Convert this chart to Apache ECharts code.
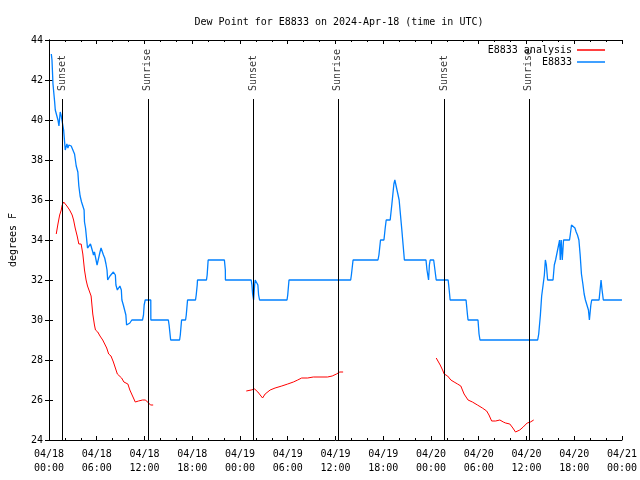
<!DOCTYPE html>
<html><head><meta charset="utf-8">
<script src="https://cdn.jsdelivr.net/npm/echarts@6/dist/echarts.min.js"></script>
<style>html,body{margin:0;padding:0;background:#fff}#c{width:640px;height:480px}</style>
</head><body><div id="c"></div>
<script>
var titleText = 'Dew Point for E8833 on 2024-Apr-18 (time in UTC)';
var xTickLabels = ['04/18\n00:00','04/18\n06:00','04/18\n12:00','04/18\n18:00','04/19\n00:00','04/19\n06:00','04/19\n12:00','04/19\n18:00','04/20\n00:00','04/20\n06:00','04/20\n12:00','04/20\n18:00','04/21\n00:00'];
// hours since 04/18 00:00 UTC, degrees F
var observed = [[0.29,43.3],[0.375,43.0],[0.5,41.8],[0.71,40.9],[0.79,40.5],[1.0,40.5],[1.125,40.0],[1.25,39.7],[1.41,40.4],[1.54,40.2],[1.66,40.3],[1.84,39.5],[1.96,38.9],[2.04,38.5],[2.25,38.8],[2.375,38.6],[2.5,38.75],[2.79,38.7],[3.0,38.6],[3.21,38.3],[3.41,38.2],[3.42,37.7],[3.625,37.4],[3.75,36.7],[3.91,36.2],[4.09,35.9],[4.34,35.9],[4.41,35.5],[4.46,34.9],[4.59,34.6],[4.75,34.6],[4.84,33.6],[5.09,33.6],[5.21,33.8],[5.29,33.9],[5.375,33.7],[5.5,33.4],[5.59,33.25],[5.71,33.4],[5.91,33.3],[6.04,32.75],[6.125,32.8],[6.41,33.4],[6.54,33.6],[6.66,33.5],[6.84,33.25],[7.0,33.1],[7.16,32.8],[7.29,32.5],[7.375,32.0],[7.5,32.1],[7.66,32.2],[7.91,32.25],[8.09,32.4],[8.25,32.5],[8.34,32.25],[8.41,31.75],[8.59,31.5],[8.75,31.5],[8.91,31.7],[9.09,31.5],[9.16,31.0],[9.34,30.75],[9.59,30.75],[9.66,30.25],[9.75,29.75],[10.0,29.75],[10.16,29.85],[10.41,30.0],[11.75,30.0],[11.875,30.25],[11.96,30.75],[12.09,31.0],[12.79,31.0],[12.8,30.0],[15.0,30.0],[15.09,29.75],[15.29,29.0],[16.41,29.0],[16.5,29.25],[16.66,30],[17.16,30],[17.25,30.25],[17.41,31],[18.41,31],[18.5,31.25],[18.625,31.75],[18.66,32],[19.79,32],[19.875,32.25],[20.0,33],[22.04,33],[22.16,32.5],[22.17,32],[25.41,32],[25.5,31.75],[25.59,31.3],[25.71,31],[25.84,31.75],[25.91,32],[26.16,32],[26.25,31.75],[26.34,31.25],[26.46,31],[29.91,31],[30.0,31.25],[30.16,32],[37.91,32],[38.0,32.25],[38.21,33],[41.34,33],[41.46,33.25],[41.66,34],[42.09,34],[42.25,34.6],[42.375,35],[42.875,35],[43.09,35.8],[43.34,36.8],[43.46,37],[43.66,37],[43.84,36.3],[44.0,36],[44.16,36],[44.34,34.5],[44.5,33.75],[44.66,33],[47.375,33],[47.5,32.5],[47.7,32],[47.8,32.75],[47.9,33],[48.34,33],[48.5,32.5],[48.66,32],[50.16,32],[50.29,31.5],[50.41,31],[52.41,31],[52.59,30.25],[52.66,30],[53.91,30],[54.04,29.3],[54.16,29],[61.41,29],[61.54,29.3],[61.75,30.25],[61.91,31.2],[62.09,31.75],[62.25,32.25],[62.375,33],[62.5,32.75],[62.66,32],[63.34,32],[63.5,32.75],[63.66,33],[63.91,33],[64.04,33.75],[64.16,34],[64.25,33],[64.37,34],[64.5,33],[64.66,34],[65.41,34],[65.5,34.25],[65.66,34.75],[65.91,34.75],[66.09,34.6],[66.25,34.4],[66.41,34.25],[66.59,34],[66.75,33.25],[66.91,32.3],[67.09,31.8],[67.25,31.3],[67.41,31],[67.66,31],[67.79,30.5],[67.91,30],[68.09,30.75],[68.2,31],[69.125,31],[69.25,31.5],[69.375,32],[69.5,31.5],[69.66,31],[72.0,31]];
var analysis1 = [[0.91,34.3],[1.125,34.8],[1.34,35.25],[1.54,35.5],[1.66,35.75],[1.84,35.9],[2.04,35.8],[2.25,35.7],[2.59,35.5],[2.91,35.25],[3.09,35],[3.29,34.6],[3.54,34.2],[3.75,33.8],[4.04,33.8],[4.25,33.3],[4.46,32.5],[4.66,32],[4.84,31.7],[5.04,31.7],[5.29,31.2],[5.5,30.3],[5.71,29.75],[5.84,29.5],[6.125,29.4],[6.41,29.2],[6.75,29.0],[7.0,28.8],[7.25,28.6],[7.5,28.3],[7.79,28.2],[8.09,27.9],[8.34,27.6],[8.59,27.3],[8.84,27.2],[9.125,27.1],[9.41,26.9],[9.91,26.8],[10.16,26.5],[10.5,26.2],[10.84,25.9],[11.25,25.95],[11.75,26.0],[12.09,26.0],[12.41,25.9],[12.75,25.75],[13.09,25.75]];
var analysis2 = [[24.79,26.45],[25.41,26.5],[25.84,26.55],[26.25,26.4],[26.54,26.25],[26.84,26.1],[27.16,26.3],[27.79,26.5],[28.41,26.6],[29.25,26.7],[30.0,26.8],[30.71,26.9],[31.25,27.0],[31.75,27.1],[32.5,27.1],[33.21,27.15],[35.0,27.15],[35.59,27.2],[36.125,27.3],[36.54,27.4],[36.96,27.4]];
var analysis3 = [[48.66,28.1],[48.91,28.05],[49.16,27.75],[49.46,27.5],[49.66,27.3],[50.09,27.2],[50.5,27.0],[50.91,26.9],[51.34,26.8],[51.75,26.7],[52.16,26.3],[52.66,26.0],[53.21,25.9],[53.84,25.75],[54.46,25.6],[55.0,25.45],[55.29,25.25],[55.625,24.95],[56.125,24.95],[56.66,25.0],[57.09,24.9],[57.375,24.85],[57.91,24.8],[58.29,24.6],[58.625,24.4],[58.84,24.35],[59.16,24.5],[59.59,24.65],[60.09,24.85],[60.5,24.9],[60.91,25.0]];
var sunHours = [1.66, 12.41, 25.66, 36.29, 49.66, 60.29];
var sunLabels = ['Sunset','Sunrise','Sunset','Sunrise','Sunset','Sunrise'];

var MONO = '"DejaVu Sans Mono", "Liberation Mono", monospace';
var analysisData = analysis1.concat([[13.5,'-']], analysis2, [[40,'-']], analysis3);
var lineTop = 41.05, labelBase = 41.3;
var markData = sunHours.map(function(h){ return [{coord:[h, lineTop]}, {coord:[h, 24]}]; });
var labelData = sunHours.map(function(h, i){ return {value:[h, labelBase], name: sunLabels[i]}; });

var chart = echarts.init(document.getElementById('c'), null, {renderer:'canvas'});
var tickCommon = {inside:true, length:4, lineStyle:{color:'#000', width:1}};
var minorCommon = {show:true, splitNumber:3, length:2, lineStyle:{color:'#000', width:1}};
chart.setOption({
  animation:false,
  backgroundColor:'#fff',
  title:{text:titleText, left:334, textAlign:'center', top:12, textStyle:{fontFamily:MONO, fontSize:10, fontWeight:'normal', color:'#000'}},
  legend:{
    data:['E8833 analysis','E8833'], orient:'vertical', right:30, top:40, align:'right',
    icon:'rect', itemWidth:28, itemHeight:1.5, itemGap:2,
    textStyle:{fontFamily:MONO, fontSize:10, color:'#000'}
  },
  grid:{left:46, right:18, top:40, bottom:40},
  xAxis:[{
    type:'value', min:0, max:72, interval:6, position:'bottom',
    axisLine:{show:true, lineStyle:{color:'#000', width:1}},
    axisTick:tickCommon, minorTick:minorCommon, splitLine:{show:false},
    axisLabel:{fontFamily:MONO, fontSize:10, color:'#000', margin:7, lineHeight:14,
      formatter:function(v){ return xTickLabels[Math.round(v/6)] || ''; }}
  },{
    type:'value', min:0, max:72, interval:6, position:'top',
    axisLine:{show:true, lineStyle:{color:'#000', width:1}},
    axisTick:tickCommon, minorTick:minorCommon, splitLine:{show:false}, axisLabel:{show:false}
  }],
  yAxis:[{
    type:'value', min:24, max:44, interval:2, position:'left',
    name:'degrees F', nameLocation:'middle', nameGap:31,
    nameTextStyle:{fontFamily:MONO, fontSize:10, color:'#000'},
    axisLine:{show:true, lineStyle:{color:'#000', width:1}},
    axisTick:tickCommon, splitLine:{show:false},
    axisLabel:{fontFamily:MONO, fontSize:10, color:'#000', margin:6}
  },{
    type:'value', min:24, max:44, interval:2, position:'right',
    axisLine:{show:true, lineStyle:{color:'#000', width:1}},
    axisTick:tickCommon, splitLine:{show:false}, axisLabel:{show:false}
  }],
  series:[
    {name:'sun', type:'scatter', data:labelData, symbolSize:0, silent:true,
      label:{show:true, position:'inside', rotate:90, align:'left', verticalAlign:'middle', offset:[3,0],
        formatter:function(p){ return p.name; }, fontFamily:MONO, fontSize:10, color:'#000'},
      markLine:{silent:true, symbol:['none','none'], label:{show:false},
        lineStyle:{color:'#000', width:1, type:'solid'}, data:markData}},
    {name:'E8833 analysis', type:'line', data:analysisData, showSymbol:false, symbol:'none',
      connectNulls:false, lineStyle:{color:'#ff0000', width:1}, itemStyle:{color:'#ff0000'}},
    {name:'E8833', type:'line', data:observed, showSymbol:false, symbol:'none',
      lineStyle:{color:'#0080ff', width:1.3}, itemStyle:{color:'#0080ff'}}
  ]
});
</script></body></html>
